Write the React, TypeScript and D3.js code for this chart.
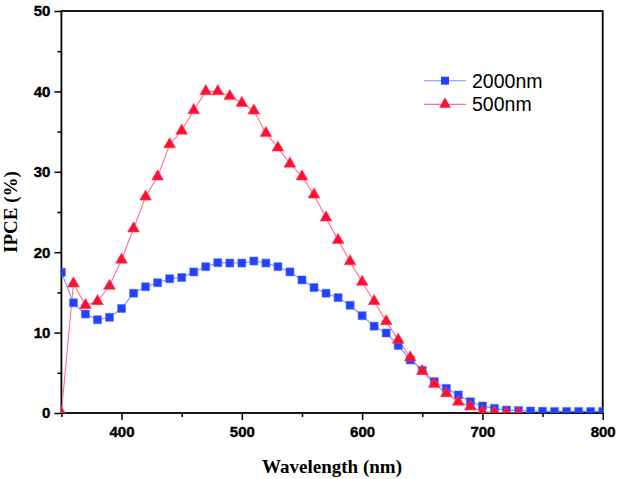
import { useEffect, useRef } from 'react';
import * as d3 from 'd3';

const wavelengths = d3.range(350, 801, 10);

// 2000nm film, 350..800 nm
const ipce2000 = [
  17.5, 13.7, 12.3, 11.6, 11.9, 13.0, 14.9, 15.7, 16.2, 16.7,
  16.85, 17.55, 18.2, 18.7, 18.65, 18.65, 18.9, 18.65, 18.2, 17.55,
  16.55, 15.6, 14.9, 14.35, 13.4, 12.1, 10.8, 9.95, 8.4, 6.6,
  5.3, 3.9, 3.07, 2.24, 1.4, 0.87, 0.58, 0.37, 0.3, 0.25,
  0.22, 0.2, 0.2, 0.2, 0.2, 0.2,
];

// 500nm film, 350..730 nm
const ipce500 = [
  0, 16.1, 13.4, 13.9, 15.8, 19.05, 22.95, 26.9, 29.4, 33.4,
  35.1, 37.65, 40.0, 40.0, 39.4, 38.55, 37.6, 34.8, 33.0, 31.0,
  29.4, 27.15, 24.3, 21.5, 18.85, 16.3, 13.9, 11.4, 9.1, 6.9,
  5.2, 3.6, 2.45, 1.4, 0.8, 0.15, 0.05, 0, 0,
];

const yMajor = [0, 10, 20, 30, 40, 50];
const yMinor = [5, 15, 25, 35, 45];
const xMajor = [400, 500, 600, 700, 800];
const xMinor = [350, 450, 550, 650, 750];

const W = 619;
const H = 479;

export default function App() {
  const svgRef = useRef<SVGSVGElement>(null);

  useEffect(() => {
    if (!svgRef.current) return;
    const svg = d3.select(svgRef.current);
    svg.selectAll('*').remove();

    const left = 61.4, right = 602.7, top = 11, bottom = 413;
    const x = d3.scaleLinear([350, 800], [left, right]);
    const y = d3.scaleLinear([0, 50], [bottom, top]);

    const tickFont = '"Liberation Sans", Arial, sans-serif';
    const labelFont = '"Liberation Serif", "Times New Roman", serif';

    svg.append('defs').append('clipPath').attr('id', 'plot-clip')
      .append('rect').attr('x', left).attr('y', top).attr('width', right - left).attr('height', bottom - top);

    // Frame
    svg.append('rect')
      .attr('x', left).attr('y', top).attr('width', right - left).attr('height', bottom - top)
      .attr('fill', 'none').attr('stroke', '#000').attr('stroke-width', 1.8);

    // Left axis
    const yAxis = svg.append('g').attr('transform', `translate(${left},0)`)
      .call(d3.axisLeft(y).tickValues(yMajor).tickSize(7).tickPadding(4).tickFormat(d3.format('d')));
    yAxis.append('g').call(d3.axisLeft(y).tickValues(yMinor).tickSize(4).tickFormat(() => ''));
    yAxis.selectAll('.domain').remove();
    yAxis.selectAll('.tick line').attr('stroke', '#000').attr('stroke-width', 1.5);
    yAxis.selectAll('text').style('font-family', tickFont).style('font-weight', '700')
      .style('font-size', '15px').attr('fill', '#000').attr('stroke', '#000').attr('stroke-width', 0.4);

    // Bottom axis
    const xAxis = svg.append('g').attr('transform', `translate(0,${bottom})`)
      .call(d3.axisBottom(x).tickValues(xMajor).tickSize(7).tickPadding(6).tickFormat(d3.format('d')));
    xAxis.append('g').call(d3.axisBottom(x).tickValues(xMinor).tickSize(4).tickFormat(() => ''));
    xAxis.selectAll('.domain').remove();
    xAxis.selectAll('.tick line').attr('stroke', '#000').attr('stroke-width', 1.5);
    xAxis.selectAll('text').style('font-family', tickFont).style('font-weight', '700')
      .style('font-size', '15px').attr('fill', '#000').attr('stroke', '#000').attr('stroke-width', 0.4);

    // Axis titles
    svg.append('text').attr('x', (left + right) / 2).attr('y', 473)
      .attr('text-anchor', 'middle').style('font-family', labelFont).style('font-weight', '700')
      .style('font-size', '19px').text('Wavelength (nm)');
    svg.append('text').attr('transform', `translate(17,${(top + bottom) / 2}) rotate(-90)`)
      .attr('text-anchor', 'middle').style('font-family', labelFont).style('font-weight', '700')
      .style('font-size', '19px').text('IPCE (%)');

    const plot = svg.append('g').attr('clip-path', 'url(#plot-clip)');
    const line = d3.line<number>().x((_, i) => x(wavelengths[i])).y(d => y(d));

    plot.append('path').datum(ipce2000).attr('d', line)
      .attr('fill', 'none').attr('stroke', '#7f8cff').attr('stroke-width', 1.1);
    plot.append('path').datum(ipce500).attr('d', line)
      .attr('fill', 'none').attr('stroke', '#ff6f8f').attr('stroke-width', 1.1);

    const sq = d3.symbol(d3.symbolSquare, 64);
    const tri = d3.symbol(d3.symbolTriangle, 60);

    plot.selectAll('.m2000').data(ipce2000).join('path')
      .attr('transform', (d, i) => `translate(${x(wavelengths[i])},${y(d)})`)
      .attr('d', sq).attr('fill', '#2242ff').attr('stroke', '#5a70ff').attr('stroke-width', 0.6);
    plot.selectAll('.m500').data(ipce500).join('path')
      .attr('transform', (d, i) => `translate(${x(wavelengths[i])},${y(d)})`)
      .attr('d', tri).attr('fill', '#ff1030').attr('stroke', '#ff4060').attr('stroke-width', 0.6);

    // Legend
    const legend = [
      { label: '2000nm', color: '#7f8cff', fill: '#2242ff', sym: sq },
      { label: '500nm', color: '#ff6f8f', fill: '#ff1030', sym: tri },
    ];
    legend.forEach((item, i) => {
      const ly = 80.7 + i * 23.7;
      svg.append('line').attr('x1', 424).attr('x2', 466).attr('y1', ly).attr('y2', ly)
        .attr('stroke', item.color).attr('stroke-width', 1.1);
      svg.append('path').attr('transform', `translate(445,${ly})`).attr('d', item.sym).attr('fill', item.fill);
      svg.append('text').attr('x', 472).attr('y', ly + 6.8)
        .style('font-family', tickFont).style('font-size', '19.5px').attr('fill', '#000').text(item.label);
    });
  }, []);

  return (
    <svg ref={svgRef} width={W} height={H}
      style={{ position: 'absolute', left: 0, top: 0, background: '#fff' }} />
  );
}
